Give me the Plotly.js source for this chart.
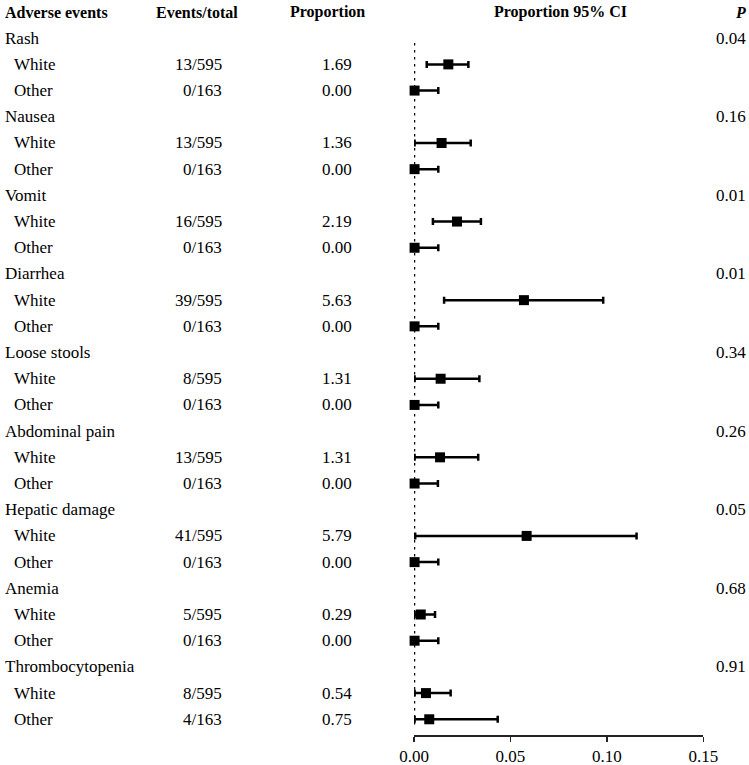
<!DOCTYPE html>
<html>
<head>
<meta charset="utf-8">
<script src="https://cdn.plot.ly/plotly-3.0.1.min.js"></script>
<style>html,body{margin:0;padding:0;background:#fff;}#chart{width:749px;height:765px;}</style>
</head>
<body>
<div id="chart"></div>
<script>
// ---- data ----
const eventNames = ["Rash","Nausea","Vomit","Diarrhea","Loose stools","Abdominal pain","Hepatic damage","Anemia","Thrombocytopenia"];
const groups = ["White","Other"];
const pValues = ["0.04","0.16","0.01","0.01","0.34","0.26","0.05","0.68","0.91"];
const eventsTotal = ["13/595","0/163","13/595","0/163","16/595","0/163","39/595","0/163","8/595","0/163","13/595","0/163","41/595","0/163","5/595","0/163","8/595","4/163"];
const proportionText = ["1.69","0.00","1.36","0.00","2.19","0.00","5.63","0.00","1.31","0.00","1.31","0.00","5.79","0.00","0.29","0.00","0.54","0.75"];
const estimate = [0.0178,0.0003,0.0143,0.0003,0.0223,0.0003,0.0570,0.0003,0.0138,0.0003,0.0135,0.0003,0.0584,0.0003,0.0035,0.0003,0.0062,0.0079];
const ciLow    = [0.0066,0.0000,0.0003,0.0000,0.0098,0.0000,0.0156,0.0000,0.0003,0.0000,0.0003,0.0000,0.0006,0.0000,0.0003,0.0000,0.0003,0.0003];
const ciHigh   = [0.0282,0.0126,0.0294,0.0126,0.0347,0.0126,0.0981,0.0126,0.0339,0.0126,0.0333,0.0124,0.1154,0.0126,0.0109,0.0126,0.0190,0.0434];
const xTicks = [0, 0.05, 0.10, 0.15];

// ---- layout helpers ----
const W = 749, H = 765;
const px = v => v / W;
const FONT = '"Liberation Serif", "Times New Roman", serif';
const fs = 17;
const hfont = {family: FONT, size: 16, color: "#000"};

const rowY = [];      // y row index for each data row
const annotations = [];
function ann(text, xpx, y, anchor, extra) {
  annotations.push(Object.assign({
    text: text, xref: "paper", yref: "y", x: px(xpx), y: y,
    xanchor: anchor, yanchor: "middle", showarrow: false,
    font: {family: FONT, size: fs, color: "#000"}
  }, extra || {}));
}

// headers
ann("<b>Adverse events</b>", 3, 0, "left", {font: hfont});
ann("<b>Events/total</b>", 197, 0, "center", {font: hfont});
ann("<b>Proportion</b>", 327, 0, "center", {font: hfont});
ann("<b>Proportion 95% CI</b>", 560, 0, "center", {font: hfont});
ann("<b><i>P</i></b>", 740, 0, "center", {font: hfont});

let r = 1, k = 0;
eventNames.forEach((name, i) => {
  ann(name, 3, r, "left");
  ann(pValues[i], 748, r, "right");
  r++;
  groups.forEach(g => {
    ann(g, 12, r, "left");
    ann(eventsTotal[k], 224, r, "right");
    ann(proportionText[k], 354, r, "right");
    rowY.push(r);
    r++; k++;
  });
});

const trace = {
  type: "scatter", mode: "markers",
  x: estimate, y: rowY,
  marker: {symbol: "square", size: 10, color: "#000"},
  error_x: {
    type: "data", symmetric: false,
    array: estimate.map((e, i) => ciHigh[i] - e),
    arrayminus: estimate.map((e, i) => e - ciLow[i]),
    color: "#000", thickness: 2.5, width: 3.5
  },
  hoverinfo: "skip", showlegend: false, cliponaxis: false
};

const layout = {
  width: W, height: H,
  margin: {l: 0, r: 0, t: 0, b: 30, pad: 0},
  paper_bgcolor: "#fff", plot_bgcolor: "#fff",
  font: {family: FONT, size: fs, color: "#000"},
  xaxis: {
    domain: [px(414), px(703.3)],
    range: [0, 0.15],
    tickvals: xTicks, tickformat: ".2f",
    showgrid: false, zeroline: false,
    showline: true, linecolor: "#222", linewidth: 1.5,
    ticks: "outside", ticklen: 5, tickwidth: 1.5, tickcolor: "#222",
    tickfont: {family: FONT, size: fs, color: "#000"},
    fixedrange: true
  },
  yaxis: {
    range: [27.6, -0.458],
    showgrid: false, zeroline: false, showline: false,
    showticklabels: false, ticks: "", fixedrange: true
  },
  shapes: [{
    type: "line", xref: "x", yref: "y",
    x0: 0, x1: 0, y0: 1.18, y1: 27.35,
    line: {color: "#000", width: 2.5, dash: "2.5px,4.5px"}, layer: "below"
  }],
  annotations: annotations
};

Plotly.newPlot("chart", [trace], layout, {displayModeBar: false, staticPlot: true});
</script>
</body>
</html>
